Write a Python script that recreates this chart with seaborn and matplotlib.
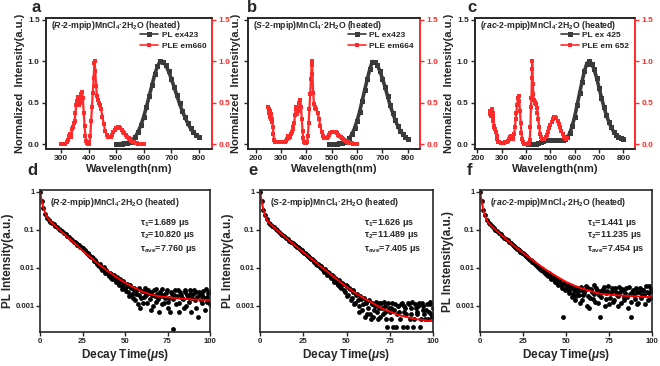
import matplotlib
matplotlib.use("Agg")
import matplotlib.pyplot as plt
import matplotlib.ticker as mticker
import seaborn as sns

# ---------------- panels a-c : PL / PLE spectra ----------------
pl_a_wl = list(range(500, 801, 10))
pl_a = [0.0, 0.003, 0.006, 0.01, 0.018, 0.03, 0.05, 0.09, 0.15, 0.23, 0.33,
        0.45, 0.58, 0.71, 0.84, 0.94, 1.0, 0.99, 0.95, 0.88, 0.79,
        0.69, 0.59, 0.49, 0.40, 0.32, 0.25, 0.19, 0.14, 0.11, 0.085]

ple_a_wl = [300, 305, 310, 315, 320, 325, 328, 331, 334, 337, 340, 343, 346, 349, 352,
            355, 358, 361, 364, 367, 370, 373, 376, 379, 382, 385, 388, 391, 394, 397,
            400, 403, 406, 409, 412, 415, 418, 421, 422, 424, 427, 430, 433, 436, 440,
            445, 450, 455, 460, 465, 470, 475, 480, 485, 490, 495, 500, 505, 510, 515,
            520, 525, 530, 535, 540, 545, 550, 555, 560, 565, 570, 575, 580, 585, 590,
            595, 600]
ple_a = [0.0, 0.0, 0.0, 0.005, 0.02, 0.05, 0.10, 0.12, 0.08, 0.12, 0.18, 0.20, 0.25, 0.28, 0.38,
         0.47, 0.52, 0.57, 0.47, 0.53, 0.50, 0.60, 0.63, 0.55, 0.38, 0.22, 0.10, 0.04, 0.01, 0.0,
         0.0, 0.02, 0.10, 0.28, 0.45, 0.62, 0.80, 0.98, 1.0, 0.88, 0.70, 0.58, 0.53, 0.50, 0.47,
         0.42, 0.33, 0.24, 0.16, 0.11, 0.09, 0.085, 0.09, 0.11, 0.14, 0.17, 0.19, 0.20, 0.20, 0.19,
         0.17, 0.15, 0.13, 0.11, 0.09, 0.07, 0.055, 0.04, 0.03, 0.02, 0.015, 0.01, 0.006, 0.004, 0.002,
         0.001, 0.0]

pl_b_wl = list(range(490, 801, 10))
pl_b = [0.0, 0.0, 0.002, 0.004, 0.008, 0.014, 0.024, 0.04, 0.07, 0.12, 0.19,
        0.28, 0.39, 0.52, 0.65, 0.78, 0.90, 0.995, 0.99, 0.95, 0.88,
        0.79, 0.69, 0.58, 0.47, 0.38, 0.29, 0.22, 0.16, 0.12, 0.085, 0.06]

ple_b_wl = [250, 252, 254, 256, 258, 260, 262, 264, 266, 268, 270, 273, 276, 280, 285,
            290, 295, 300, 305, 310, 315, 320, 325, 328, 331, 334, 337, 340, 343, 346,
            349, 352, 355, 358, 361, 364, 367, 370, 373, 376, 379, 382, 385, 388, 391,
            394, 397, 400, 403, 406, 409, 412, 415, 418, 421, 422, 424, 427, 430, 433,
            436, 440, 445, 450, 455, 460, 465, 470, 475, 480, 485, 490, 495, 500, 505,
            510, 515, 520, 525, 530, 535, 540, 545, 550, 555, 560, 565, 570, 575, 580,
            585, 590, 595, 600]
ple_b = [0.45, 0.38, 0.42, 0.33, 0.40, 0.30, 0.36, 0.27, 0.30, 0.20, 0.12, 0.05, 0.02, 0.02, 0.02,
         0.02, 0.02, 0.02, 0.02, 0.025, 0.03, 0.04, 0.06, 0.10, 0.07, 0.10, 0.08, 0.12, 0.15, 0.20,
         0.18, 0.25, 0.35, 0.42, 0.45, 0.36, 0.44, 0.40, 0.50, 0.53, 0.45, 0.30, 0.16, 0.07, 0.03,
         0.01, 0.01, 0.01, 0.03, 0.10, 0.25, 0.42, 0.60, 0.78, 0.95, 1.0, 0.85, 0.62, 0.48, 0.45,
         0.44, 0.42, 0.37, 0.30, 0.22, 0.15, 0.10, 0.075, 0.07, 0.075, 0.09, 0.11, 0.13, 0.145, 0.15,
         0.15, 0.14, 0.13, 0.11, 0.10, 0.085, 0.07, 0.055, 0.045, 0.035, 0.027, 0.02, 0.014, 0.01, 0.007,
         0.004, 0.002, 0.001, 0.0]

pl_c_wl = list(range(410, 801, 10))
pl_c = [0.0, 0.0, 0.0, 0.005, 0.01, 0.025, 0.04, 0.05, 0.05, 0.052,
        0.05, 0.048, 0.047, 0.047, 0.05, 0.06, 0.08, 0.13, 0.22, 0.33,
        0.47, 0.61, 0.75, 0.88, 0.97, 1.0, 0.97, 0.90, 0.80, 0.68,
        0.56, 0.45, 0.35, 0.27, 0.20, 0.15, 0.11, 0.085, 0.07, 0.055]

ple_c_wl = [250, 252, 254, 256, 258, 260, 262, 264, 266, 268, 270, 273, 276, 279, 282,
            286, 290, 295, 300, 305, 310, 315, 320, 325, 330, 334, 338, 342, 345, 348,
            351, 354, 357, 360, 363, 366, 369, 372, 375, 378, 381, 384, 388, 392, 396,
            400, 404, 408, 412, 415, 418, 420, 422, 424, 425, 426, 428, 430, 432, 435,
            438, 441, 444, 447, 450, 454, 458, 462, 466, 470, 475, 480, 485, 490, 495,
            500, 505, 510, 515, 520, 525, 530, 535, 540, 545, 550, 555, 560, 565, 570]
ple_c = [0.40, 0.36, 0.40, 0.34, 0.38, 0.42, 0.33, 0.38, 0.28, 0.22, 0.20, 0.18, 0.15, 0.10, 0.06,
         0.03, 0.02, 0.015, 0.015, 0.015, 0.018, 0.02, 0.025, 0.035, 0.06, 0.09, 0.10, 0.09, 0.06, 0.08,
         0.12, 0.20, 0.30, 0.38, 0.47, 0.55, 0.58, 0.52, 0.40, 0.25, 0.13, 0.06, 0.02, 0.005, 0.0,
         0.0, 0.0, 0.0, 0.01, 0.05, 0.20, 0.45, 0.55, 0.80, 1.0, 0.90, 0.72, 0.60, 0.53, 0.51,
         0.50, 0.48, 0.44, 0.38, 0.30, 0.20, 0.12, 0.08, 0.06, 0.055, 0.06, 0.08, 0.11, 0.15, 0.19,
         0.23, 0.27, 0.30, 0.32, 0.32, 0.31, 0.28, 0.24, 0.20, 0.16, 0.12, 0.09, 0.07, 0.06, 0.07]

spec_names = ["R", "S", "rac"]
pl_labels = ["PL ex423", "PL ex423", "PL ex 425"]
ple_labels = ["PLE em660", "PLE em664", "PLE em 652"]

# ---------------- panels d-f : PL decay ----------------
decay_t = list(range(0, 101))
decay_t2 = [t + 0.5 for t in range(20, 100)]
fit_t = [0, 0.5, 1, 1.5, 2, 3, 4, 5, 6, 8, 10, 15, 20, 25, 30, 35, 40, 45, 50, 55,
         60, 65, 70, 80, 90, 100]

decay_d = [1.0, 0.58, 0.38, 0.27, 0.21, 0.18, 0.165, 0.15, 0.14, 0.128,
           0.12, 0.108, 0.10, 0.092, 0.083, 0.077, 0.07, 0.064, 0.058, 0.053,
           0.048, 0.046, 0.041, 0.040, 0.035, 0.033, 0.029, 0.027, 0.023, 0.022,
           0.019, 0.018, 0.015, 0.0145, 0.012, 0.0125, 0.010, 0.0098, 0.0082, 0.0090,
           0.0068, 0.0075, 0.0055, 0.0062, 0.0048, 0.0058, 0.0040, 0.0052, 0.0033, 0.0045,
           0.0030, 0.0038, 0.0024, 0.0035, 0.0021, 0.0030, 0.0014, 0.0027, 0.0019, 0.0009,
           0.0025, 0.0017, 0.0030, 0.0012, 0.0022, 0.0008, 0.0020, 0.0026, 0.0013, 0.0021,
           0.0007, 0.0018, 0.0028, 0.0012, 0.0022, 0.0009, 0.0016, 0.0024, 0.00025, 0.0019,
           0.0011, 0.0027, 0.0007, 0.0020, 0.0015, 0.0023, 0.0010, 0.0018, 0.0026, 0.0007,
           0.0021, 0.0014, 0.0024, 0.0005, 0.0019, 0.0012, 0.0025, 0.0008, 0.0017, 0.0022,
           0.0011]
decay_d2 = [0.047, 0.043, 0.040, 0.036, 0.034, 0.031, 0.030, 0.025, 0.024, 0.020,
            0.019, 0.016, 0.016, 0.013, 0.011, 0.011, 0.0090, 0.0105, 0.0072, 0.0080,
            0.0062, 0.0070, 0.0050, 0.0065, 0.0042, 0.0050, 0.0036, 0.0046, 0.0028, 0.0040,
            0.0025, 0.0033, 0.0018, 0.0030, 0.0016, 0.0026, 0.0021, 0.0011, 0.0030, 0.0016,
            0.0012, 0.0024, 0.0019, 0.0027, 0.0015, 0.0023, 0.0010, 0.0018, 0.0028, 0.0015,
            0.0024, 0.0011, 0.0020, 0.0016, 0.0027, 0.0013, 0.0007, 0.0021, 0.0015, 0.0026,
            0.0018, 0.0012, 0.0023, 0.0016, 0.0009, 0.0027, 0.0019, 0.0013, 0.0021, 0.0016,
            0.0026, 0.0009, 0.0017, 0.0023, 0.0014, 0.0020, 0.0016, 0.0028, 0.0013, 0.0024]
fit_d = [1.0, 0.76, 0.58, 0.46, 0.38, 0.28, 0.225, 0.19, 0.17, 0.14, 0.115, 0.073, 0.046,
         0.029, 0.0185, 0.0120, 0.0082, 0.0057, 0.0041, 0.0031, 0.0024, 0.0020, 0.0018,
         0.0016, 0.00148, 0.00143]

decay_e = [1.0, 0.56, 0.34, 0.24, 0.19, 0.155, 0.145, 0.13, 0.118, 0.107,
           0.097, 0.088, 0.080, 0.073, 0.068, 0.062, 0.057, 0.052, 0.048, 0.044,
           0.041, 0.037, 0.035, 0.031, 0.029, 0.026, 0.025, 0.022, 0.020, 0.018,
           0.017, 0.015, 0.0145, 0.012, 0.0118, 0.0098, 0.0102, 0.0080, 0.0085, 0.0065,
           0.0072, 0.0055, 0.0060, 0.0044, 0.0052, 0.0036, 0.0044, 0.0030, 0.0037, 0.0024,
           0.0033, 0.0020, 0.0028, 0.0016, 0.0024, 0.0012, 0.0021, 0.0010, 0.0018, 0.0008,
           0.0016, 0.0012, 0.0006, 0.0014, 0.00045, 0.0011, 0.0008, 0.0013, 0.00045, 0.0009,
           0.0012, 0.0006, 0.0010, 0.00045, 0.0012, 0.0007, 0.0009, 0.00028, 0.0011, 0.0006,
           0.0010, 0.00045, 0.0012, 0.0007, 0.0009, 0.00028, 0.0011, 0.0006, 0.0013, 0.00045,
           0.0009, 0.0007, 0.0012, 0.00045, 0.0010, 0.0006, 0.0008, 0.00045, 0.0011, 0.0006,
           0.0009]
decay_e2 = [0.039, 0.036, 0.033, 0.030, 0.028, 0.025, 0.023, 0.021, 0.019, 0.0175,
            0.016, 0.014, 0.013, 0.0125, 0.0105, 0.0110, 0.0088, 0.0092, 0.0070, 0.0078,
            0.0060, 0.0066, 0.0048, 0.0056, 0.0040, 0.0048, 0.0032, 0.0041, 0.0026, 0.0035,
            0.0018, 0.0030, 0.0014, 0.0026, 0.0011, 0.0019, 0.0014, 0.0007, 0.0015, 0.0011,
            0.0005, 0.0013, 0.0009, 0.0006, 0.0012, 0.0005, 0.0010, 0.0007, 0.0012, 0.0005,
            0.0009, 0.0013, 0.0007, 0.00028, 0.0009, 0.00045, 0.0012, 0.0008, 0.00028, 0.0010,
            0.0007, 0.0011, 0.00028, 0.0010, 0.0006, 0.0012, 0.00045, 0.0009, 0.00028, 0.0011,
            0.0006, 0.0010, 0.00028, 0.0012, 0.0008, 0.00045, 0.0011, 0.0007, 0.0013, 0.0005]
fit_e = [1.0, 0.74, 0.55, 0.42, 0.33, 0.235, 0.185, 0.16, 0.143, 0.118, 0.097, 0.062, 0.040,
         0.026, 0.0170, 0.0110, 0.0073, 0.0048, 0.0032, 0.0022, 0.0016, 0.0012, 0.00088,
         0.00058, 0.00045, 0.00040]

decay_f = [1.0, 0.56, 0.34, 0.24, 0.18, 0.155, 0.14, 0.125, 0.112, 0.101,
           0.092, 0.084, 0.076, 0.069, 0.063, 0.058, 0.053, 0.048, 0.044, 0.040,
           0.037, 0.034, 0.031, 0.028, 0.026, 0.024, 0.022, 0.020, 0.018, 0.0165,
           0.0155, 0.014, 0.0128, 0.0115, 0.0108, 0.0096, 0.0092, 0.0080, 0.0078, 0.0066,
           0.0072, 0.0056, 0.0062, 0.0048, 0.0055, 0.0041, 0.0048, 0.0035, 0.0005, 0.0040,
           0.0030, 0.0036, 0.0025, 0.0033, 0.0021, 0.0030, 0.0018, 0.0028, 0.0012, 0.0032,
           0.0019, 0.0026, 0.0010, 0.0030, 0.0016, 0.0024, 0.0035, 0.0013, 0.0027, 0.0020,
           0.0005, 0.0023, 0.0031, 0.0015, 0.0025, 0.0011, 0.0022, 0.0029, 0.0014, 0.0024,
           0.0018, 0.0032, 0.0012, 0.0026, 0.0017, 0.0029, 0.0009, 0.0021, 0.0005, 0.0027,
           0.0015, 0.0024, 0.0012, 0.0030, 0.0019, 0.0026, 0.0011, 0.0023, 0.0034, 0.0016,
           0.0025]
decay_f2 = [0.035, 0.032, 0.030, 0.027, 0.025, 0.023, 0.021, 0.019, 0.017, 0.016,
            0.0145, 0.0135, 0.012, 0.0112, 0.0100, 0.0090, 0.0085, 0.0074, 0.0070, 0.0060,
            0.0064, 0.0050, 0.0058, 0.0043, 0.0050, 0.0036, 0.0044, 0.0030, 0.0038, 0.0026,
            0.0033, 0.0022, 0.0030, 0.0017, 0.0027, 0.0014, 0.0024, 0.0020, 0.0027, 0.0014,
            0.0022, 0.0033, 0.0018, 0.0009, 0.0028, 0.0015, 0.0021, 0.0030, 0.0012, 0.0025,
            0.0017, 0.0028, 0.0010, 0.0022, 0.0033, 0.0016, 0.0025, 0.0013, 0.0029, 0.0020,
            0.0010, 0.0024, 0.0028, 0.0014, 0.0022, 0.0017, 0.0031, 0.0013, 0.0024, 0.0019,
            0.0029, 0.0011, 0.0023, 0.0016, 0.0027, 0.0020, 0.0033, 0.0014, 0.0022, 0.0028]
fit_f = [1.0, 0.74, 0.55, 0.42, 0.33, 0.235, 0.18, 0.152, 0.136, 0.112, 0.092, 0.058, 0.037,
         0.025, 0.0168, 0.0114, 0.0080, 0.0058, 0.0043, 0.0034, 0.0028, 0.0024, 0.0021,
         0.0019, 0.0018, 0.0017]

tau1 = ["1.689", "1.626", "1.441"]
tau2 = ["10.820", "11.489", "11.235"]
tau_ave = ["7.760", "7.405", "7.454"]
decay_ylabels = ["PL Intensity(a.u.)", "PL Intensity(a.u.)", "PL Instensity(a.u.)"]

# ---------------- style ----------------
sns.set_style("ticks")
plt.rcParams["font.family"] = ["Liberation Sans", "DejaVu Sans"]
plt.rcParams["font.weight"] = "bold"
plt.rcParams["axes.labelweight"] = "bold"
plt.rcParams["mathtext.fontset"] = "custom"
plt.rcParams["mathtext.rm"] = "Liberation Sans:bold"
plt.rcParams["mathtext.it"] = "Liberation Sans:italic:bold"
plt.rcParams["mathtext.bf"] = "Liberation Sans:bold"
plt.rcParams["axes.linewidth"] = 1.2

RED = "#ff2a2a"
GREY = "#3a3a3a"
W, H = 660, 366

fig = plt.figure(figsize=(6.6, 3.66), dpi=100)


def px_axes(x0, x1, y0, y1):
    return fig.add_axes([x0 / W, 1 - y1 / H, (x1 - x0) / W, (y1 - y0) / H])


top_boxes = [(46, 212), (248, 420), (475, 635)]
top_xlim = [(245, 848), (170, 848), (190, 848)]
top_ticks = [[300, 400, 500, 600, 700, 800], [200, 300, 400, 500, 600, 700, 800],
             [200, 300, 400, 500, 600, 700, 800]]
spectra = [(pl_a_wl, pl_a, ple_a_wl, ple_a), (pl_b_wl, pl_b, ple_b_wl, ple_b),
           (pl_c_wl, pl_c, ple_c_wl, ple_c)]

for i, (x0, x1) in enumerate(top_boxes):
    ax = px_axes(x0, x1, 18, 149)
    plw, plv, plew, plev = spectra[i]
    sns.lineplot(x=plw, y=plv, ax=ax, color=GREY, lw=2.6, marker="s", markersize=3.6,
                 markeredgewidth=0, label=pl_labels[i])
    sns.lineplot(x=plew, y=plev, ax=ax, color=RED, lw=1.6, marker="s", markersize=3.2,
                 markeredgewidth=0, label=ple_labels[i])
    ax.set_xlim(*top_xlim[i])
    ax.set_ylim(-0.06, 1.52)
    ax.set_xticks(top_ticks[i])
    ax.set_yticks([0.0, 0.5, 1.0, 1.5])
    ax.yaxis.set_major_formatter(mticker.FormatStrFormatter("%.1f"))
    ax.tick_params(labelsize=6, length=3, width=1, pad=1.5)
    if i == 1:
        ax.tick_params(axis="y", labelleft=False)
    ax.set_xlabel("Wavelength(nm)", fontsize=8, labelpad=1)
    ax.set_ylabel("Normalized  Intensity(a.u.)", fontsize=8, labelpad=2)
    ax.spines["right"].set_color(RED)
    leg = ax.legend(loc="upper right", bbox_to_anchor=(0.99, 0.93), frameon=False,
                    prop={"weight": "bold", "size": 6}, handlelength=2.2, handletextpad=0.4,
                    labelspacing=0.35, borderaxespad=0.1)
    for h in leg.legend_handles:
        h.set_linewidth(1.2)
    ax.text(0.03, 0.945,
            r"($\mathit{%s}$-2-mpip)MnCl$_{4}$·2H$_{2}$O (heated)" % spec_names[i],
            transform=ax.transAxes, fontsize=6.2, va="center", ha="left")
    ax2 = ax.twinx()
    ax2.set_ylim(-0.06, 1.52)
    ax2.set_yticks([0.0, 0.5, 1.0, 1.5])
    ax2.yaxis.set_major_formatter(mticker.FormatStrFormatter("%.1f"))
    ax2.tick_params(axis="y", colors=RED, labelsize=6, length=3, width=1, pad=1.5)
    ax2.spines["right"].set_color(RED)
    ax2.spines["right"].set_linewidth(1.2)

bot_boxes = [(40, 210), (260, 433), (480, 652)]
decays = [(decay_d, decay_d2, fit_d), (decay_e, decay_e2, fit_e), (decay_f, decay_f2, fit_f)]
tau_x = [0.59, 0.60, 0.62]

for i, (x0, x1) in enumerate(bot_boxes):
    ax = px_axes(x0, x1, 190, 332)
    main, extra, fit = decays[i]
    sns.scatterplot(x=decay_t, y=main, ax=ax, color="black", s=12, linewidth=0)
    sns.scatterplot(x=decay_t2, y=extra, ax=ax, color="black", s=12, linewidth=0)
    sns.lineplot(x=fit_t, y=fit, ax=ax, color="red", lw=1.4)
    ax.set_yscale("log")
    ax.set_xlim(0, 100)
    ax.set_ylim(2.07e-4, 1.12)
    ax.set_xticks([0, 25, 50, 75, 100])
    ax.yaxis.set_major_locator(mticker.FixedLocator([1e-3, 1e-2, 1e-1, 1]))
    ax.yaxis.set_major_formatter(mticker.FixedFormatter(["0.001", "0.01", "0.1", "1"]))
    ax.yaxis.set_minor_locator(mticker.NullLocator())
    ax.tick_params(labelsize=5.6, length=3, width=1, pad=1)
    ax.set_xlabel(r"Decay Time($\mathit{\mu}$s)", fontsize=8.5, labelpad=2)
    ax.set_ylabel(decay_ylabels[i], fontsize=8.5, labelpad=1)
    ax.text(0.06, 0.915,
            r"($\mathit{%s}$-2-mpip)MnCl$_{4}$·2H$_{2}$O (heated)" % spec_names[i],
            transform=ax.transAxes, fontsize=6.2, va="center", ha="left")
    ax.text(tau_x[i], 0.77, r"τ$_{1}$=%s μs" % tau1[i], transform=ax.transAxes,
            fontsize=6.5, va="center")
    ax.text(tau_x[i], 0.68, r"τ$_{2}$=%s μs" % tau2[i], transform=ax.transAxes,
            fontsize=6.5, va="center")
    ax.text(tau_x[i], 0.585, r"τ$_{\mathrm{ave}}$=%s μs" % tau_ave[i], transform=ax.transAxes,
            fontsize=6.5, va="center")

for letter, x, y in [("a", 32, 0), ("b", 247, 0), ("c", 467, 0),
                     ("d", 27, 163), ("e", 248, 163), ("f", 467, 163)]:
    fig.text(x / W, 1 - y / H, letter, fontsize=12, fontweight="bold", va="top", ha="left")

fig.savefig("out.png", dpi=100)
